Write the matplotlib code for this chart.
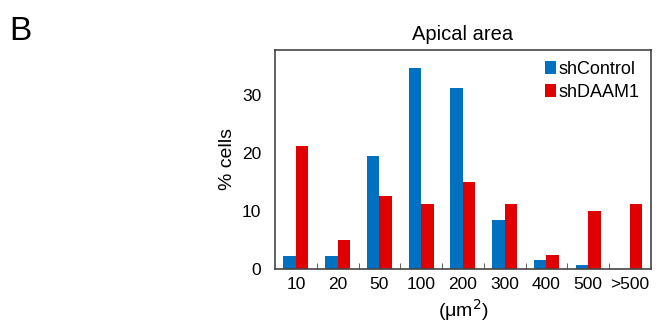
import matplotlib.pyplot as plt
import numpy as np
from matplotlib.ticker import FixedLocator

plt.rcParams['font.family'] = ['Liberation Sans', 'DejaVu Sans']

categories = ['10', '20', '50', '100', '200', '300', '400', '500', '>500']
sh_control = [2.1, 2.1, 19.5, 34.6, 31.2, 8.4, 1.4, 0.7, 0.0]
sh_daam1 = [21.2, 5.0, 12.5, 11.1, 14.9, 11.1, 2.4, 10.0, 11.1]

x = np.arange(len(categories))
w = 0.3

fig = plt.figure(figsize=(6.58, 3.24), dpi=100)
ax = fig.add_axes([0.418, 0.171, 0.571, 0.675])

ax.bar(x - w / 2, sh_control, w, color='#0070C0', label='shControl')
ax.bar(x + w / 2, sh_daam1, w, color='#E00000', label='shDAAM1')

ax.set_xlim(-0.5, len(categories) - 0.5)
ax.set_ylim(0, 37.8)
ax.set_yticks([0, 10, 20, 30])
ax.set_xticks(x)
ax.set_xticklabels(categories)
ax.xaxis.set_minor_locator(FixedLocator(np.arange(0.5, len(categories) - 1, 1)))
ax.tick_params(axis='x', which='major', length=0, labelsize=12.5, pad=6)
ax.tick_params(axis='x', which='minor', direction='in', length=4, color='#444444')
ax.tick_params(axis='y', length=0, labelsize=12.5, pad=10)

for s in ax.spines.values():
    s.set_color('#444444')
    s.set_linewidth(1.2)

ax.set_ylabel('% cells', fontsize=14, labelpad=4)
ax.set_xlabel('(\u03bcm$^2$)', fontsize=14, labelpad=4)
ax.set_title('Apical area', fontsize=14.5, pad=7)

ax.legend(loc='upper right', frameon=False, fontsize=13, handlelength=0.6,
          handleheight=0.7, handletextpad=0.15, labelspacing=0.35,
          borderaxespad=0.2)

fig.text(0.014, 0.95, 'B', fontsize=24, va='top', ha='left')

fig.savefig('out.png', dpi=100)
